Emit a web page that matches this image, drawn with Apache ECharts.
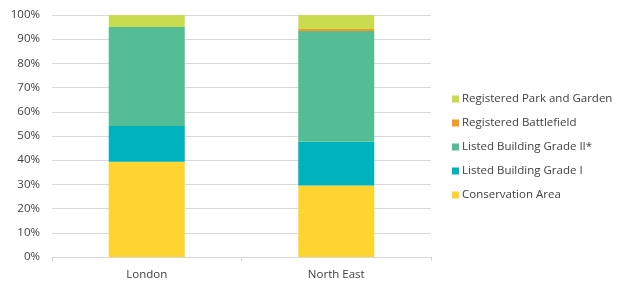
<!DOCTYPE html>
<html><head><meta charset="utf-8">
<script src="https://cdn.jsdelivr.net/npm/echarts@6/dist/echarts.min.js"></script>
<style>html,body{margin:0;padding:0;background:#fff}#c{width:629px;height:290px}</style>
</head><body><div id="c"></div>
<script>
var categories = ["London", "North East"];
var conservationArea = [39.4, 29.5];
var gradeI = [14.7, 18.1];
var gradeIIstar = [40.9, 45.8];
var battlefield = [0, 0.8];
var parkGarden = [5.0, 5.8];
var yTicks = [0, 10, 20, 30, 40, 50, 60, 70, 80, 90, 100];

var names = ["Conservation Area", "Listed Building Grade I", "Listed Building Grade II*", "Registered Battlefield", "Registered Park and Garden"];
var colors = ["#fed530", "#00b2bd", "#55bd95", "#f59a23", "#c9dc50"];
var datas = [conservationArea, gradeI, gradeIIstar, battlefield, parkGarden];

var chart = echarts.init(document.getElementById('c'));
chart.setOption({
  animation: false,
  textStyle: {fontFamily: "Open Sans"},
  grid: {left: 52, right: 198, top: 15, bottom: 33},
  legend: {
    orient: 'vertical', left: 447, top: 88, itemGap: 12, itemWidth: 7, itemHeight: 7,
    icon: 'rect',
    data: names.slice().reverse(),
    textStyle: {fontSize: 11.5, color: '#404040', padding: [0,0,0,-2]}
  },
  xAxis: {
    type: 'category', data: categories,
    axisLine: {lineStyle: {color: '#d9d9d9'}},
    axisTick: {show: true, alignWithLabel: false, length: 4, lineStyle: {color: '#d9d9d9'}},
    axisLabel: {color: '#404040', fontSize: 11.5, margin: 12}
  },
  yAxis: {
    type: 'value', min: yTicks[0], max: yTicks[yTicks.length-1], interval: 10,
    axisLine: {show: false}, axisTick: {show: false},
    splitLine: {lineStyle: {color: '#d9d9d9'}},
    axisLabel: {formatter: '{value}%', color: '#404040', fontSize: 11.5, margin: 12}
  },
  series: names.map(function(n, i){
    return {name: n, type: 'bar', stack: 's', data: datas[i], barWidth: 76,
      itemStyle: {color: colors[i]}};
  })
});
</script></body></html>
